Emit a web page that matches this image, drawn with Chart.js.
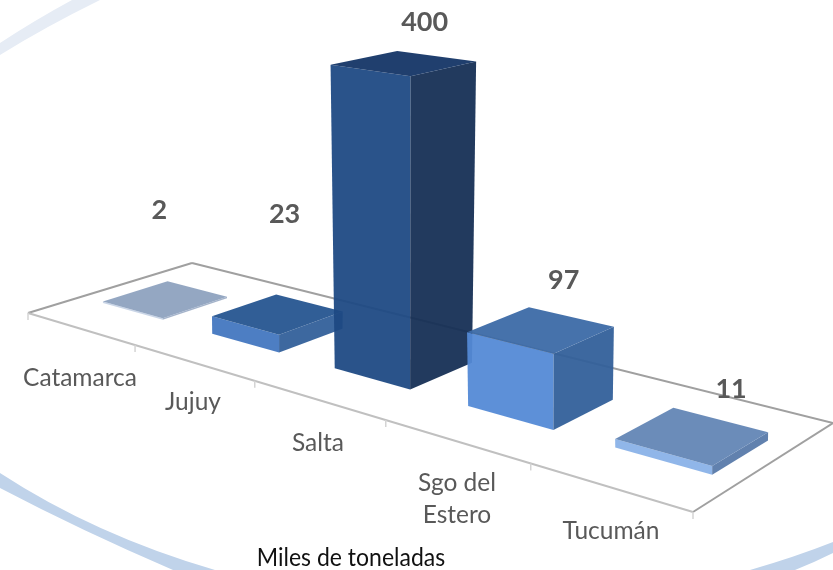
<!DOCTYPE html>
<html>
<head>
<meta charset="utf-8">
<style>
  html, body { margin: 0; padding: 0; background: #fff; }
</style>
<script src="https://cdn.jsdelivr.net/npm/chart.js@4/dist/chart.umd.min.js"></script>
</head>
<body>
<canvas id="myChart" width="833" height="570"></canvas>
<script>
const categories = ["Catamarca", "Jujuy", "Salta", "Sgo del Estero", "Tucumán"];
const values = [2, 23, 400, 97, 11];
const axisTitle = "Miles de toneladas";

// face colours of each bar
const frontColors = ["#c6d3e6", "#4377c0", "#1f4a84", "#548ad6", "#8ab2e8"];
const topColors = ["#8ea2bf", "#265590", "#143566", "#3c6aa6", "#6386b5"];
const sideColors = ["#a0b0c8", "#33609a", "#162f55", "#33609a", "#587aaa"];

// where the texts sit, floor corners of the 3d view
const valueLabelOffset = [[-13, -91], [3, -101], [21, -41], [23, -49], [35, -47]];
const categoryLabelPos = [[80, 378], [193, 402], [318, 443], [457, 499], [611, 531]];
const floorFrontLeft = [28, 313];
const floorFrontRight = [693, 512];
const floorBackRight = [833, 423];
const floorBackLeft = [192, 263];
const depthStart = 0.305;
const depthEnd = 0.70;
const barShift = [0.002, 0.009, 0.016, 0.016, 0.011];
const tickStops = [0, 0.161, 0.341, 0.538, 0.756, 1];

// unit square -> floor quad
function makeProjection(p0, p1, p2, p3) {
  const dx1 = p1[0] - p2[0], dx2 = p3[0] - p2[0], sx = p0[0] - p1[0] + p2[0] - p3[0];
  const dy1 = p1[1] - p2[1], dy2 = p3[1] - p2[1], sy = p0[1] - p1[1] + p2[1] - p3[1];
  const den = dx1 * dy2 - dx2 * dy1;
  const g = (sx * dy2 - dx2 * sy) / den;
  const h = (dx1 * sy - sx * dy1) / den;
  const a = p1[0] - p0[0] + g * p1[0], b = p3[0] - p0[0] + h * p3[0];
  const d = p1[1] - p0[1] + g * p1[1], e = p3[1] - p0[1] + h * p3[1];
  return function (u, v) {
    const w = g * u + h * v + 1;
    return [(a * u + b * v + p0[0]) / w, (d * u + e * v + p0[1]) / w];
  };
}
const project = makeProjection(floorFrontLeft, floorFrontRight, floorBackRight, floorBackLeft);

function poly(ctx, pts, fill) {
  ctx.beginPath();
  pts.forEach(function (p, i) {
    if (i == 0) ctx.moveTo(p[0], p[1]);
    else ctx.lineTo(p[0], p[1]);
  });
  ctx.closePath();
  ctx.fillStyle = fill;
  ctx.fill();
}

function line(ctx, p, q, color, width) {
  ctx.beginPath();
  ctx.moveTo(p[0], p[1]);
  ctx.lineTo(q[0], q[1]);
  ctx.strokeStyle = color;
  ctx.lineWidth = width;
  ctx.stroke();
}

const view3d = {
  id: "view3d",
  beforeDatasetsDraw(chart) {
    const ctx = chart.ctx;
    const area = chart.chartArea;
    ctx.save();

    // decoration arcs behind the chart
    ctx.fillStyle = "#e6ecf5";
    ctx.beginPath();
    ctx.moveTo(0, 43);
    ctx.quadraticCurveTo(35, 20, 72, 0);
    ctx.lineTo(100, 0);
    ctx.quadraticCurveTo(45, 27, 0, 55);
    ctx.fill();
    ctx.fillStyle = "#c0d3ea";
    ctx.beginPath();
    ctx.moveTo(0, 473);
    ctx.quadraticCurveTo(95, 535, 215, 570);
    ctx.lineTo(173, 570);
    ctx.quadraticCurveTo(80, 530, 0, 488);
    ctx.fill();
    ctx.beginPath();
    ctx.moveTo(833, 542);
    ctx.quadraticCurveTo(795, 557, 750, 570);
    ctx.lineTo(795, 570);
    ctx.quadraticCurveTo(815, 562, 833, 553);
    ctx.fill();

    // floor
    line(ctx, floorFrontLeft, floorBackLeft, "#a0a0a0", 2);
    line(ctx, floorBackLeft, floorBackRight, "#a0a0a0", 2);
    line(ctx, floorBackRight, floorFrontRight, "#a0a0a0", 2);
    line(ctx, floorFrontLeft, floorFrontRight, "#c0c0c0", 2);
    tickStops.forEach(function (s) {
      const t = [
        floorFrontLeft[0] + (floorFrontRight[0] - floorFrontLeft[0]) * s,
        floorFrontLeft[1] + (floorFrontRight[1] - floorFrontLeft[1]) * s,
      ];
      line(ctx, t, [t[0], t[1] + 7], "#d4d4d4", 1.5);
    });

    // bars, from the scale positions
    const meta = chart.getDatasetMeta(0);
    meta.data.forEach(function (bar, i) {
      const u0 = (bar.x - bar.width / 2 - area.left) / area.width + barShift[i];
      const u1 = (bar.x + bar.width / 2 - area.left) / area.width + barShift[i];
      const h = bar.base - bar.y;
      const left = project(u0, depthStart);
      const front = project(u1, depthStart);
      const right = project(u1, depthEnd);
      const back = project(u0, depthEnd);
      const mid = project((u0 + u1) / 2, (depthStart + depthEnd) / 2);
      // tall bars spread a bit towards the top, nearer corners stretch a bit more
      const up = function (p) {
        return [mid[0] + (p[0] - mid[0]) * (1 + 0.0002 * h), p[1] - h * (1 + 0.0015 * (p[1] - mid[1]))];
      };
      ctx.globalAlpha = 0.95;
      poly(ctx, [left, front, up(front), up(left)], frontColors[i]);
      poly(ctx, [front, right, up(right), up(front)], sideColors[i]);
      poly(ctx, [up(left), up(front), up(right), up(back)], topColors[i]);
      ctx.globalAlpha = 1;
    });

    // texts
    ctx.textAlign = "center";
    ctx.textBaseline = "middle";
    meta.data.forEach(function (bar, i) {
      const u = (bar.x - area.left) / area.width + barShift[2];
      const c = project(u, (depthStart + depthEnd) / 2);
      ctx.font = "bold 27px Lato";
      ctx.fillStyle = "#595959";
      ctx.fillText(String(values[i]), c[0] + valueLabelOffset[i][0], c[1] - (bar.base - bar.y) + valueLabelOffset[i][1]);
    });
    ctx.font = "24.5px Lato";
    ctx.fillStyle = "#595959";
    categories.forEach(function (name, i) {
      const p = categoryLabelPos[i];
      if (name == "Sgo del Estero") {
        ctx.fillText("Sgo del", p[0], p[1] - 16);
        ctx.fillText("Estero", p[0], p[1] + 16);
      } else {
        ctx.fillText(name, p[0], p[1]);
      }
    });
    // title is a narrow face in the picture, squeeze a bit
    ctx.translate(351, 558);
    ctx.scale(0.92, 1);
    ctx.font = "25px Lato";
    ctx.fillStyle = "#111";
    ctx.fillText(axisTitle, 0, 0);
    ctx.restore();
  }
};

const data = {
  labels: categories,
  datasets: [
    {
      data: values,
      label: "Miles de toneladas",
      backgroundColor: "rgba(0,0,0,0)",
      barPercentage: 0.58,
      categoryPercentage: 1,
    },
  ],
};

const config = {
  type: "bar",
  data: data,
  options: {
    responsive: false,
    animation: false,
    layout: { padding: { left: 28, right: 140, top: 100, bottom: 92 } },
    plugins: { legend: { display: false }, tooltip: { enabled: false } },
    scales: {
      x: { display: false },
      y: { display: false, min: 0, max: 500 },
    },
  },
  plugins: [view3d],
};

const myChart = new Chart(document.getElementById("myChart"), config);
</script>
</body>
</html>
